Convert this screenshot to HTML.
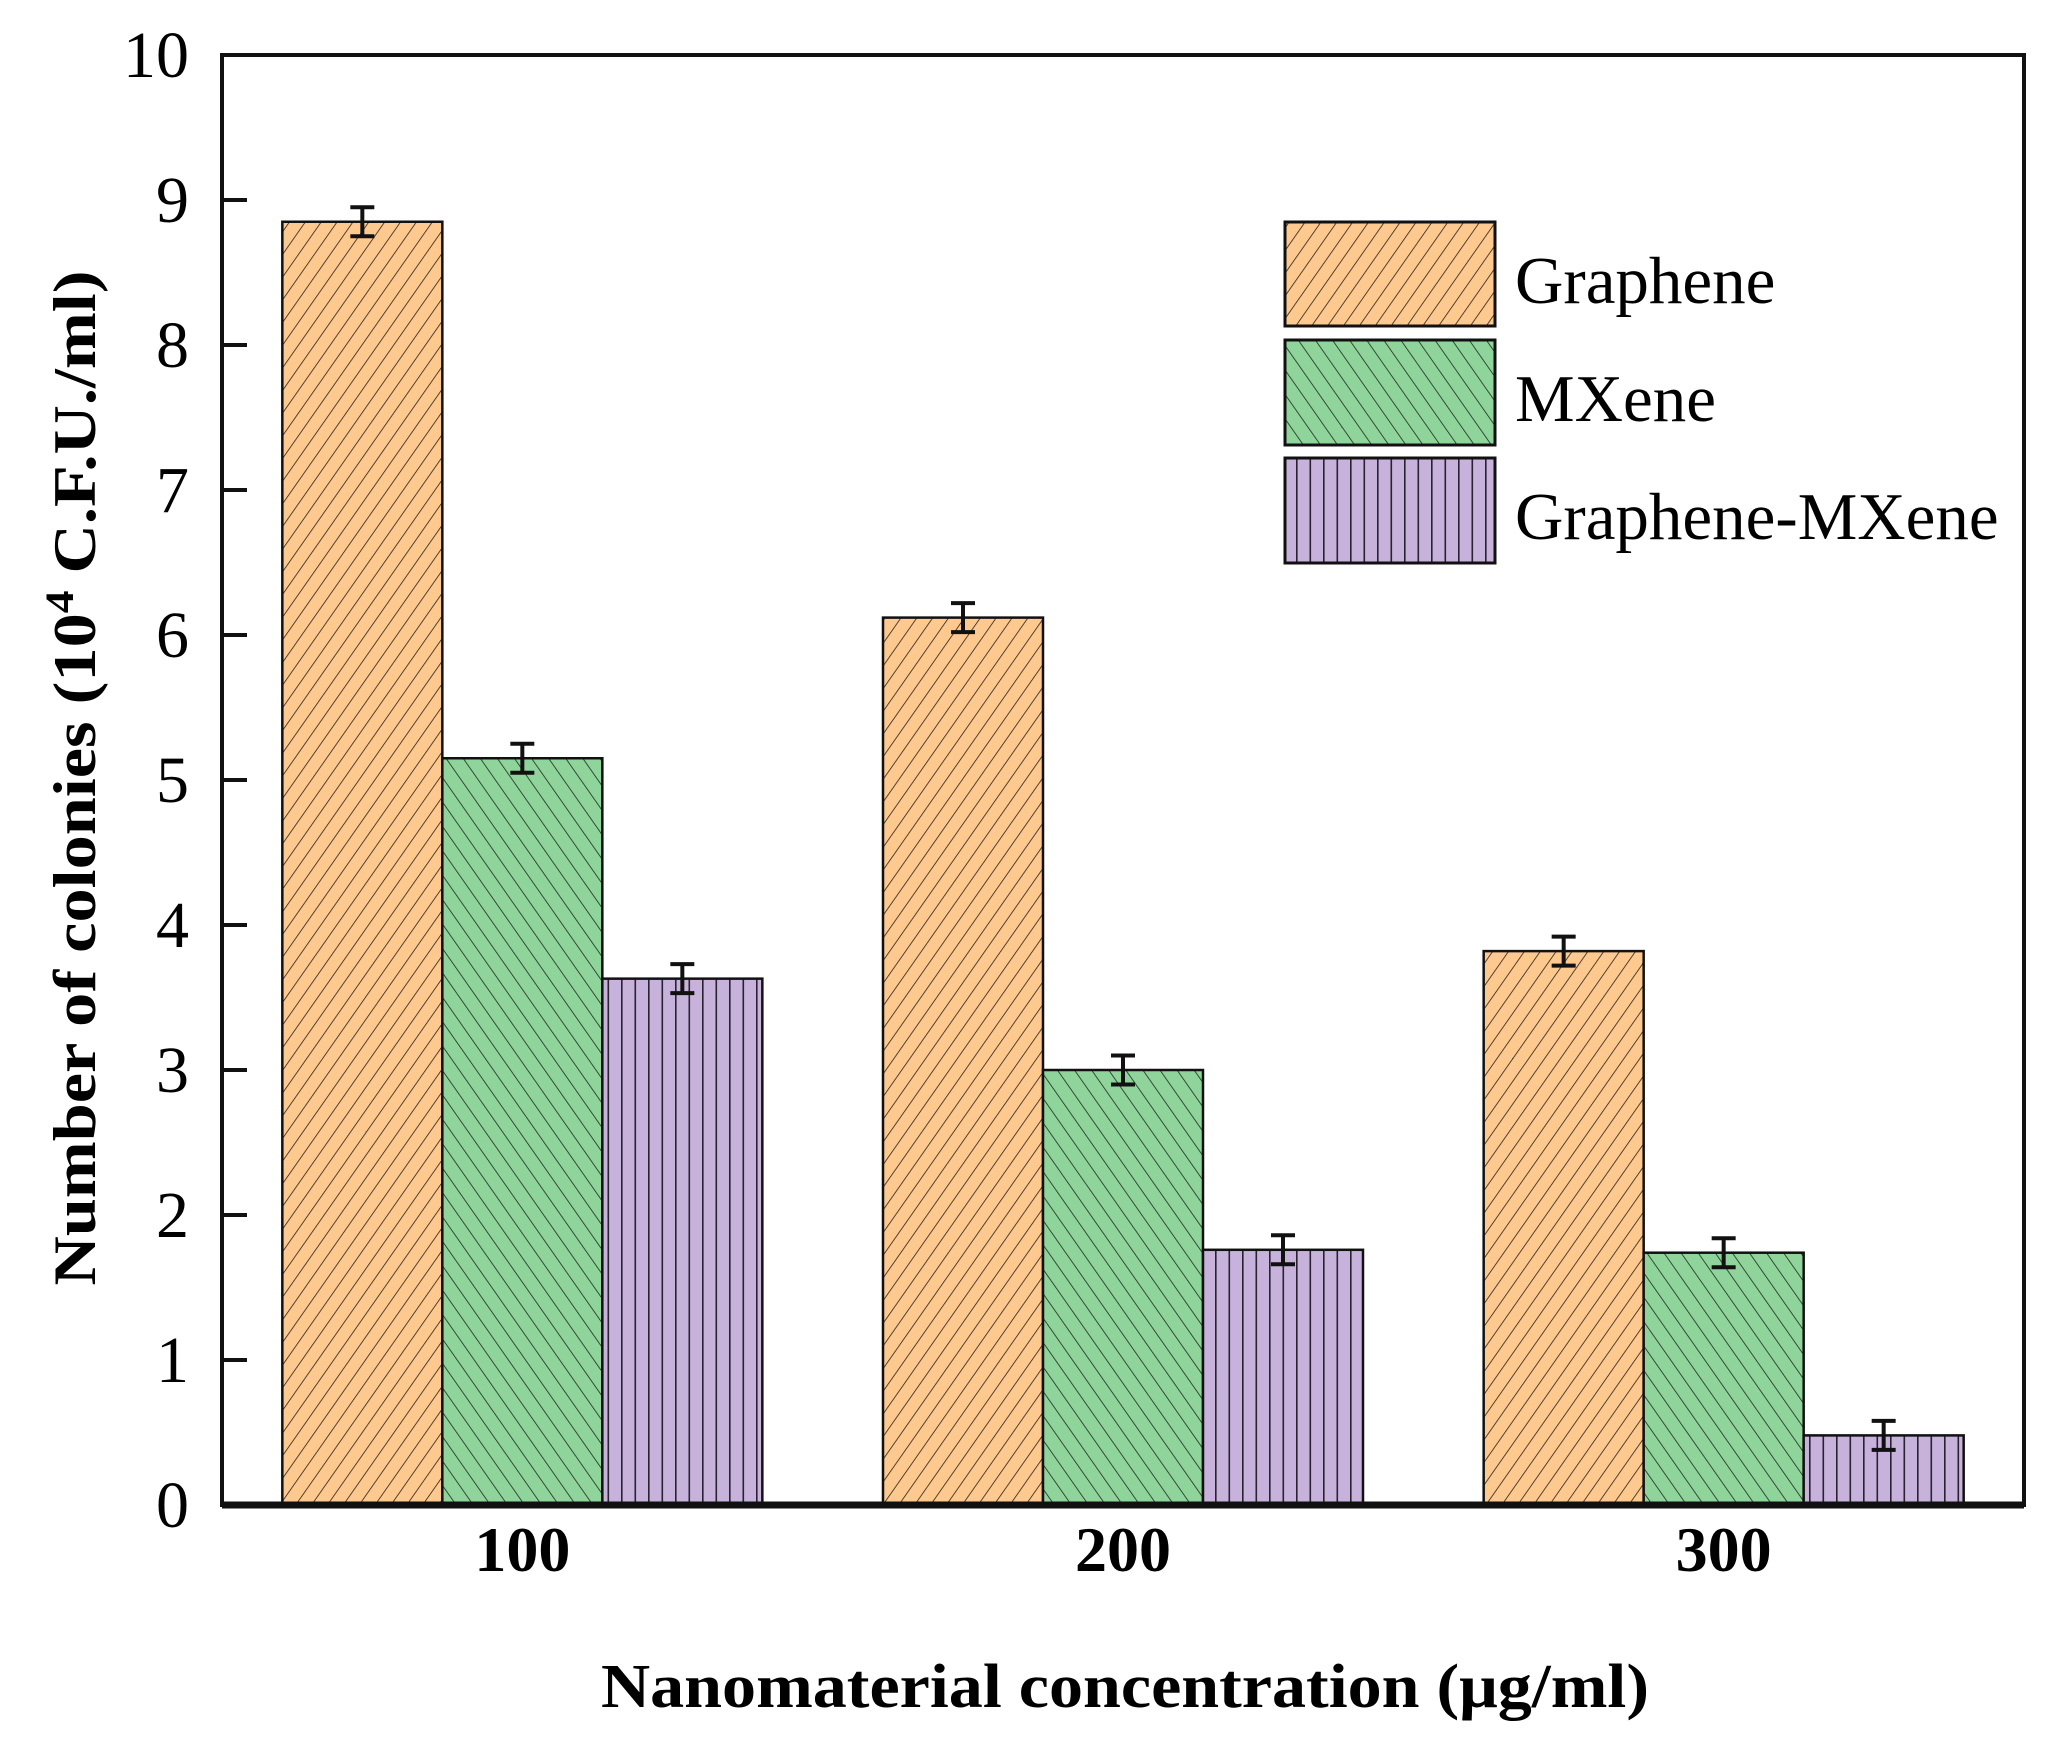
<!DOCTYPE html>
<html><head><meta charset="utf-8"><style>
html,body{margin:0;padding:0;background:#fff;}
svg{display:block;font-family:"Liberation Serif",serif;}
</style></head><body>
<svg id="chart" width="2065" height="1739" viewBox="0 0 2065 1739" xmlns="http://www.w3.org/2000/svg">
<defs>
<pattern id="pg" patternUnits="userSpaceOnUse" width="13" height="13" patternTransform="rotate(35)">
<rect width="13" height="13" fill="#fdc98f"/><line x1="0" y1="0" x2="0" y2="13" stroke="#2a2018" stroke-width="1.6"/></pattern>
<pattern id="pm" patternUnits="userSpaceOnUse" width="14" height="14" patternTransform="rotate(-35)">
<rect width="14" height="14" fill="#8fd49a"/><line x1="0" y1="0" x2="0" y2="14" stroke="#1d2a1d" stroke-width="1.6"/></pattern>
<pattern id="pv" patternUnits="userSpaceOnUse" width="13.5" height="13.5">
<rect width="13.5" height="13.5" fill="#c7b2dc"/><line x1="0.8" y1="0" x2="0.8" y2="13.5" stroke="#2a2230" stroke-width="1.6"/></pattern>
</defs>
<g id="plot"></g>
<g>
<rect x="1285" y="222" width="210" height="104" fill="url(#pg)" stroke="#111" stroke-width="3"/>
<text x="1515" y="303" font-size="67">Graphene</text>
<rect x="1285" y="340" width="210" height="105" fill="url(#pm)" stroke="#111" stroke-width="3"/>
<text x="1515" y="421" font-size="67">MXene</text>
<rect x="1285" y="458" width="210" height="105" fill="url(#pv)" stroke="#111" stroke-width="3"/>
<text x="1515" y="539" font-size="67">Graphene-MXene</text>
</g>
<text transform="translate(95,778) rotate(-90)" text-anchor="middle" font-size="60" font-weight="bold" textLength="1015" lengthAdjust="spacingAndGlyphs">Number of colonies (10<tspan font-size="40" dy="-22">4</tspan><tspan dy="22"> C.F.U./ml)</tspan></text>
<text x="1125" y="1707" text-anchor="middle" font-size="62" font-weight="bold" textLength="1048" lengthAdjust="spacingAndGlyphs">Nanomaterial concentration (μg/ml)</text>
</svg>
<script>
const categories = ["100","200","300"];
const seriesNames = ["Graphene","MXene","Graphene-MXene"];
const graphene = [8.85, 6.12, 3.82];
const mxene = [5.15, 3.0, 1.74];
const grapheneMxene = [3.63, 1.76, 0.48];
const grapheneErr = [0.1, 0.1, 0.1];
const mxeneErr = [0.1, 0.1, 0.1];
const grapheneMxeneErr = [0.1, 0.1, 0.1];
const yTicks = [0,1,2,3,4,5,6,7,8,9,10];

const NS = "http://www.w3.org/2000/svg";
const L = 222, R = 2024, T = 55, B = 1505;
const yMax = 10;
function y(v){ return B - v / yMax * (B - T); }
function xc(i){ return L + (i + 0.5) * (R - L) / categories.length; }
const bw = 160;
const plot = document.getElementById('plot');
function mk(tag, attrs){ const e = document.createElementNS(NS, tag); for (const k in attrs) e.setAttribute(k, attrs[k]); plot.appendChild(e); return e; }

const series = [graphene, mxene, grapheneMxene];
const errs = [grapheneErr, mxeneErr, grapheneMxeneErr];
const fills = ["url(#pg)","url(#pm)","url(#pv)"];
const keys = ["graphene","mxene","graphene-mxene"];
series.forEach((vals, s) => {
  vals.forEach((v, i) => {
    const x0 = xc(i) + (s - 1.5) * bw;
    const r = mk('rect', {x: x0, y: y(v), width: bw, height: y(0) - y(v), fill: fills[s], stroke: '#111', 'stroke-width': 2.5});
    
    
    const cx = x0 + bw / 2, e = errs[s][i];
    const g = mk('path', {d: `M${cx} ${y(v+e)}V${y(v-e)}M${cx-12} ${y(v+e)}H${cx+12}M${cx-12} ${y(v-e)}H${cx+12}`, stroke: '#111', 'stroke-width': 4, fill: 'none'});
    
    
  });
});

const frame = mk('rect', {x: L, y: T, width: R - L, height: B - T, fill: 'none', stroke: '#111', 'stroke-width': 4});


const xaxis = mk('line', {x1: L, x2: R, y1: B, y2: B, stroke: '#111', 'stroke-width': 7});



yTicks.forEach(t => {
  if (t > 0 && t < yMax) {
    const tk = mk('line', {x1: L, x2: L + 25, y1: y(t), y2: y(t), stroke: '#111', 'stroke-width': 4});
    
    
  }
  const tl = mk('text', {x: 189, y: y(t) + 22, 'text-anchor': 'end', 'font-size': 66});
  tl.textContent = t;
  
  
});
categories.forEach((c, i) => {
  const tl = mk('text', {x: xc(i), y: 1571, 'text-anchor': 'middle', 'font-size': 64, 'font-weight': 'bold'});
  tl.textContent = c;
  
  
});
</script>
</body></html>
